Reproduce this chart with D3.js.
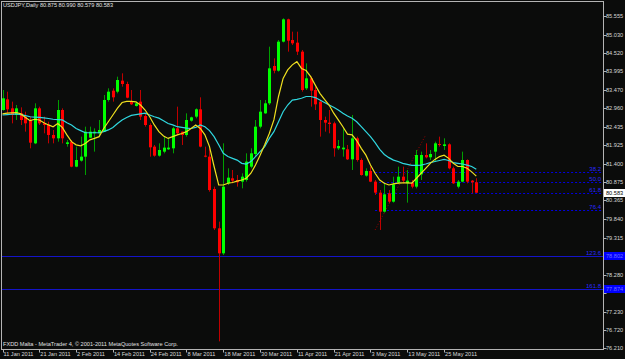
<!DOCTYPE html>
<html>
<head>
<meta charset="utf-8">
<script src="https://cdn.jsdelivr.net/npm/d3@7"></script>
<style>
  html, body { margin: 0; padding: 0; background: #0b0c0b; }
  svg { display: block; }
  text { font-family: 'Liberation Sans', Arial, sans-serif; }
</style>
</head>
<body>
<svg id="chart" width="625" height="359"></svg>
<script>
// USDJPY daily, 11 Jan 2011 .. 3 Jun 2011 (one entry per bar)
const opens = [
  82.910, 83.210, 82.957, 82.770, 82.816, 82.723, 82.629, 81.972, 82.957, 82.535,
  82.488, 82.207, 82.113, 82.910, 81.954, 82.019, 81.316, 81.485, 81.597, 82.132,
  82.254, 82.254, 82.301, 83.192, 83.454, 83.426, 83.736, 83.642, 83.145, 83.023,
  83.145, 82.741, 82.488, 81.879, 81.625, 81.738, 81.804, 81.832, 82.394, 82.301,
  82.207, 82.610, 82.723, 82.929, 81.625, 81.597, 80.687, 79.581, 78.877, 80.847,
  80.988, 80.941, 80.894, 80.941, 81.316, 81.672, 82.441, 82.816, 83.098, 84.148,
  84.017, 84.833, 85.461, 84.880, 84.805, 84.552, 83.520, 83.801, 83.473, 83.145,
  82.629, 82.554, 82.535, 81.832, 81.804, 81.804, 81.522, 82.113, 81.503, 81.063,
  81.194, 80.894, 80.584, 80.050, 80.566, 80.331, 80.866, 81.034, 80.847, 80.866,
  80.753, 81.100, 81.644, 81.579, 81.738, 81.954, 81.897, 81.944, 81.269, 80.753,
  80.894, 81.503, 80.922, 80.875
]
const highs = [
  83.473, 83.426, 83.145, 83.051, 82.985, 82.863, 82.723, 83.098, 83.004, 82.723,
  82.582, 82.348, 83.192, 82.957, 82.066, 82.066, 81.879, 82.160, 82.441, 82.441,
  82.394, 82.629, 83.332, 83.520, 83.520, 83.848, 83.942, 83.707, 83.473, 83.145,
  83.473, 82.816, 82.535, 81.926, 81.972, 82.160, 82.113, 82.441, 83.004, 82.301,
  82.816, 82.723, 82.957, 83.267, 81.879, 81.832, 80.753, 79.768, 81.972, 81.269,
  81.222, 81.081, 81.128, 81.691, 81.832, 82.629, 83.192, 83.192, 84.692, 84.364,
  84.880, 85.490, 85.480, 85.114, 85.114, 84.599, 84.223, 83.848, 83.567, 83.192,
  82.723, 82.910, 82.582, 82.066, 82.394, 81.926, 82.770, 82.160, 81.550, 81.269,
  81.316, 80.941, 80.659, 80.847, 80.659, 81.034, 81.316, 81.316, 81.222, 80.941,
  81.785, 81.738, 81.972, 81.785, 82.019, 82.160, 82.113, 81.972, 81.316, 80.941,
  81.738, 81.520, 80.941, 80.990
]
const lows = [
  82.890, 82.816, 82.535, 82.629, 82.488, 82.301, 81.832, 81.950, 82.488, 82.254,
  81.972, 81.972, 82.019, 81.972, 81.879, 81.300, 81.300, 81.457, 81.081, 82.113,
  81.738, 82.207, 82.290, 83.145, 83.145, 83.379, 83.567, 83.239, 83.051, 83.004,
  82.629, 82.441, 81.597, 81.597, 81.597, 81.691, 81.785, 81.691, 82.207, 81.926,
  82.160, 82.582, 82.676, 81.860, 81.580, 80.612, 79.534, 76.400, 78.831, 80.800,
  80.847, 80.753, 80.706, 80.894, 81.269, 81.597, 82.394, 82.800, 83.051, 83.942,
  83.989, 84.810, 84.552, 84.739, 84.458, 83.426, 83.473, 83.004, 82.910, 82.160,
  82.301, 82.254, 81.597, 81.785, 81.597, 81.503, 81.222, 81.457, 81.063, 81.034,
  80.880, 80.519, 79.534, 80.022, 80.284, 80.303, 80.828, 80.847, 80.303, 80.706,
  80.706, 80.941, 81.550, 81.503, 81.457, 81.879, 81.785, 81.241, 80.828, 80.706,
  80.875, 80.847, 80.566, 80.579
]
const closes = [
  83.239, 82.929, 82.770, 82.957, 82.629, 82.535, 81.991, 82.957, 82.535, 82.488,
  82.207, 82.113, 82.910, 82.113, 82.000, 81.316, 81.503, 81.597, 82.301, 82.301,
  82.301, 82.348, 83.192, 83.426, 83.267, 83.754, 83.642, 83.257, 83.070, 83.098,
  82.723, 82.488, 81.860, 81.625, 81.785, 81.851, 81.851, 82.394, 82.254, 82.207,
  82.629, 82.704, 82.929, 81.879, 81.597, 80.659, 79.581, 78.877, 80.753, 81.006,
  80.922, 80.875, 81.034, 81.457, 81.691, 82.441, 82.863, 83.098, 84.083, 84.017,
  84.833, 85.461, 84.861, 84.786, 84.552, 83.473, 83.801, 83.454, 83.070, 82.629,
  82.554, 82.516, 81.832, 81.897, 81.851, 81.522, 82.113, 81.503, 81.081, 81.194,
  80.894, 80.584, 80.050, 80.537, 80.331, 80.819, 81.034, 80.922, 80.922, 80.753,
  81.644, 81.644, 81.579, 81.672, 81.972, 81.926, 81.944, 81.269, 80.847, 80.894,
  81.503, 80.894, 80.875, 80.583
]

// moving averages as drawn on the chart (fast = yellow, slow = cyan)
const maFast = [
  82.80, 82.82, 82.83, 82.84, 82.80, 82.70, 82.61, 82.65, 82.63, 82.55,
  82.49, 82.44, 82.53, 82.42, 82.21, 82.02, 81.93, 81.90, 81.97, 82.07,
  82.11, 82.16, 82.39, 82.58, 82.77, 82.96, 83.12, 83.15, 83.15, 83.14,
  83.05, 82.91, 82.72, 82.49, 82.30, 82.18, 82.11, 82.16, 82.21, 82.25,
  82.30, 82.39, 82.49, 82.39, 82.21, 81.88, 81.32, 80.80, 80.80, 80.85,
  80.87, 80.91, 80.94, 80.99, 81.13, 81.36, 81.64, 81.93, 82.25, 82.63,
  83.29, 83.80, 84.04, 84.18, 84.27, 84.08, 84.02, 83.85, 83.61, 83.38,
  83.21, 83.05, 82.82, 82.63, 82.44, 82.23, 82.21, 82.05, 81.83, 81.64,
  81.36, 81.13, 80.94, 80.85, 80.80, 80.83, 80.85, 80.86, 80.86, 80.85,
  80.99, 81.13, 81.27, 81.41, 81.52, 81.60, 81.64, 81.55, 81.41, 81.32,
  81.32, 81.27, 81.17, 81.05
]
const maSlow = [
  82.77, 82.78, 82.79, 82.80, 82.78, 82.75, 82.72, 82.71, 82.70, 82.69,
  82.67, 82.65, 82.64, 82.63, 82.55, 82.49, 82.39, 82.33, 82.27, 82.27,
  82.27, 82.27, 82.30, 82.35, 82.42, 82.53, 82.63, 82.70, 82.76, 82.78,
  82.80, 82.82, 82.77, 82.72, 82.68, 82.61, 82.53, 82.49, 82.44, 82.42,
  82.40, 82.39, 82.42, 82.49, 82.44, 82.33, 82.16, 81.93, 81.69, 81.60,
  81.55, 81.50, 81.41, 81.39, 81.46, 81.60, 81.74, 81.88, 82.11, 82.30,
  82.58, 82.86, 83.05, 83.19, 83.21, 83.24, 83.29, 83.29, 83.26, 83.19,
  83.12, 83.05, 82.99, 82.91, 82.82, 82.74, 82.68, 82.58, 82.44, 82.30,
  82.16, 81.99, 81.80, 81.66, 81.57, 81.50, 81.46, 81.41, 81.38, 81.35,
  81.35, 81.36, 81.39, 81.43, 81.46, 81.49, 81.52, 81.49, 81.43, 81.41,
  81.39, 81.36, 81.32, 81.24
]

const dateLabels = ['11 Jan 2011', '21 Jan 2011', '2 Feb 2011', '14 Feb 2011', '24 Feb 2011',
  '8 Mar 2011', '18 Mar 2011', '30 Mar 2011', '11 Apr 2011', '21 Apr 2011',
  '3 May 2011', '13 May 2011', '25 May 2011']
const dateLabelStep = 8
const priceTicks = [85.555, 85.030, 84.520, 83.995, 83.470, 82.960, 82.435, 81.925, 81.400,
  80.875, 80.365, 79.840, 79.315, 78.790, 78.280, 77.755, 77.230, 76.720, 76.210]

// fibonacci retracement drawn on the chart
const fibAnchors = [{ bar: 81, price: 79.534 }, { bar: 92, price: 82.207 }]
const fibLevels = [81.164, 80.880, 80.570, 80.090]
const fibNames = ['38.2', '50.0', '61.8', '76.4']
const hLines = [78.802, 77.874]
const hLineNames = ['123.6', '161.8']

const title = 'USDJPY,Daily  80.875 80.990 80.579 80.583'
const footer = 'FXDD Malta - MetaTrader 4, \u00a9 2001-2011 MetaQuotes Software Corp.'

const W = 625
const H = 359
const plot = { left: 1.5, right: 603.5, top: 1.5, bottom: 349.5 }

const svg = d3.select('#chart')

svg.append('rect')
  .attr('width', W)
  .attr('height', H)
  .attr('fill', '#0b0c0b')

const x = d3.scaleLinear()
  .domain([0, opens.length - 1])
  .range([2.5, 2.5 + 4.6 * (opens.length - 1)])

const y = d3.scaleLinear()
  .domain([76.185, 85.949])
  .range([349, 2])

const px = (i) => Math.round(x(i)) + 0.5
const py = (p) => Math.round(y(p)) + 0.5

// horizontal lines (full width)
const hGroup = svg.append('g').attr('class', 'hlines')
hGroup.selectAll('line')
  .data(hLines)
  .enter()
  .append('line')
  .attr('x1', plot.left)
  .attr('x2', plot.right)
  .attr('y1', py)
  .attr('y2', py)
  .attr('stroke', '#1414c8')
  .attr('stroke-width', 1)

hGroup.selectAll('text')
  .data(hLines)
  .enter()
  .append('text')
  .attr('x', 601)
  .attr('y', (d) => Math.round(y(d)) - 1)
  .attr('text-anchor', 'end')
  .attr('font-size', 6)
  .attr('fill', '#2828ff')
  .text((d, i) => hLineNames[i])

// fibonacci levels (dotted rays)
const fibStart = x(d3.min(fibAnchors, (d) => d.bar))
const fGroup = svg.append('g').attr('class', 'fibo')
fGroup.selectAll('line.level')
  .data(fibLevels)
  .enter()
  .append('line')
  .attr('class', 'level')
  .attr('x1', fibStart)
  .attr('x2', plot.right)
  .attr('y1', py)
  .attr('y2', py)
  .attr('stroke', '#0000e0')
  .attr('stroke-dasharray', '2,2')

fGroup.selectAll('text')
  .data(fibLevels)
  .enter()
  .append('text')
  .attr('x', 601)
  .attr('y', (d) => Math.round(y(d)) - 1)
  .attr('text-anchor', 'end')
  .attr('font-size', 6)
  .attr('fill', '#2828ff')
  .text((d, i) => fibNames[i])

fGroup.append('line')
  .attr('x1', x(fibAnchors[0].bar))
  .attr('y1', y(fibAnchors[0].price))
  .attr('x2', x(fibAnchors[1].bar))
  .attr('y2', y(fibAnchors[1].price))
  .attr('stroke', '#a00000')
  .attr('stroke-dasharray', '1,2')

// candles
const candles = svg.append('g').attr('class', 'candles')
  .selectAll('g')
  .data(d3.range(opens.length))
  .enter()
  .append('g')

candles.append('line')
  .attr('x1', px)
  .attr('x2', px)
  .attr('y1', (i) => y(highs[i]))
  .attr('y2', (i) => y(lows[i]))
  .attr('stroke', (i) => closes[i] >= opens[i] ? '#00a000' : '#c00000')
  .attr('stroke-width', 1)

candles.append('rect')
  .attr('x', (i) => Math.round(x(i)) - 1)
  .attr('width', 3)
  .attr('y', (i) => y(Math.max(opens[i], closes[i])))
  .attr('height', (i) => Math.max(1, Math.abs(y(opens[i]) - y(closes[i]))))
  .attr('fill', (i) => closes[i] >= opens[i] ? '#00ff00' : '#ff0000')

// moving averages
const maLine = d3.line()
  .x((d, i) => x(i))
  .y((d) => y(d))

svg.append('path')
  .datum(maSlow)
  .attr('d', maLine)
  .attr('fill', 'none')
  .attr('stroke', '#30d8e0')
  .attr('stroke-width', 1.2)

svg.append('path')
  .datum(maFast)
  .attr('d', maLine)
  .attr('fill', 'none')
  .attr('stroke', '#f0e020')
  .attr('stroke-width', 1.2)

// frame
svg.append('rect')
  .attr('x', plot.left)
  .attr('y', plot.top)
  .attr('width', plot.right - plot.left)
  .attr('height', plot.bottom - plot.top)
  .attr('fill', 'none')
  .attr('stroke', '#b4b4b4')

// price axis (labels hidden under the line tags are left out, as on screen)
const tagged = (p) => hLines.some((h) => Math.abs(y(h) - y(p)) < 7)
const yAxis = svg.append('g').attr('class', 'price-axis')
yAxis.selectAll('line')
  .data(priceTicks)
  .enter()
  .append('line')
  .attr('x1', plot.right)
  .attr('x2', plot.right + 3)
  .attr('y1', py)
  .attr('y2', py)
  .attr('stroke', '#b4b4b4')

yAxis.selectAll('text')
  .data(priceTicks.filter((d) => !tagged(d)))
  .enter()
  .append('text')
  .attr('x', 606)
  .attr('y', (d) => y(d) + 2)
  .attr('font-size', 5.6)
  .attr('fill', '#d8d8d8')
  .text((d) => d.toFixed(3))

// price tags for horizontal lines
const tags = svg.append('g').attr('class', 'tags')
  .selectAll('g')
  .data(hLines)
  .enter()
  .append('g')
  .attr('transform', (d) => `translate(604,${Math.round(y(d)) - 4})`)
tags.append('rect')
  .attr('width', 21)
  .attr('height', 8)
  .attr('fill', '#0000ff')
tags.append('text')
  .attr('x', 2)
  .attr('y', 6)
  .attr('font-size', 5.6)
  .attr('fill', '#7070ff')
  .text((d) => d.toFixed(3))

// current price tag
const last = closes[closes.length - 1]
const bid = svg.append('g').attr('transform', `translate(604,${Math.round(y(last)) - 4})`)
bid.append('rect')
  .attr('width', 21)
  .attr('height', 8)
  .attr('fill', '#ffffff')
bid.append('text')
  .attr('x', 2)
  .attr('y', 6)
  .attr('font-size', 5.6)
  .attr('fill', '#000000')
  .text(last.toFixed(3))

// time axis
const xAxis = svg.append('g').attr('class', 'time-axis')
const tickIdx = dateLabels.map((d, i) => i * dateLabelStep)
xAxis.selectAll('line')
  .data(tickIdx)
  .enter()
  .append('line')
  .attr('x1', px)
  .attr('x2', px)
  .attr('y1', plot.bottom)
  .attr('y2', plot.bottom + 3)
  .attr('stroke', '#b4b4b4')

xAxis.selectAll('text')
  .data(tickIdx)
  .enter()
  .append('text')
  .attr('x', (i) => x(i) + 1)
  .attr('y', 356)
  .attr('font-size', 5.6)
  .attr('fill', '#d8d8d8')
  .text((d, i) => dateLabels[i])

svg.append('text')
  .attr('x', 3)
  .attr('y', 7)
  .attr('font-size', 5.6)
  .attr('fill', '#e0e0e0')
  .text(title)

svg.append('text')
  .attr('x', 3)
  .attr('y', 346)
  .attr('font-size', 5.6)
  .attr('fill', '#e0e0e0')
  .text(footer)
</script>
</body>
</html>
